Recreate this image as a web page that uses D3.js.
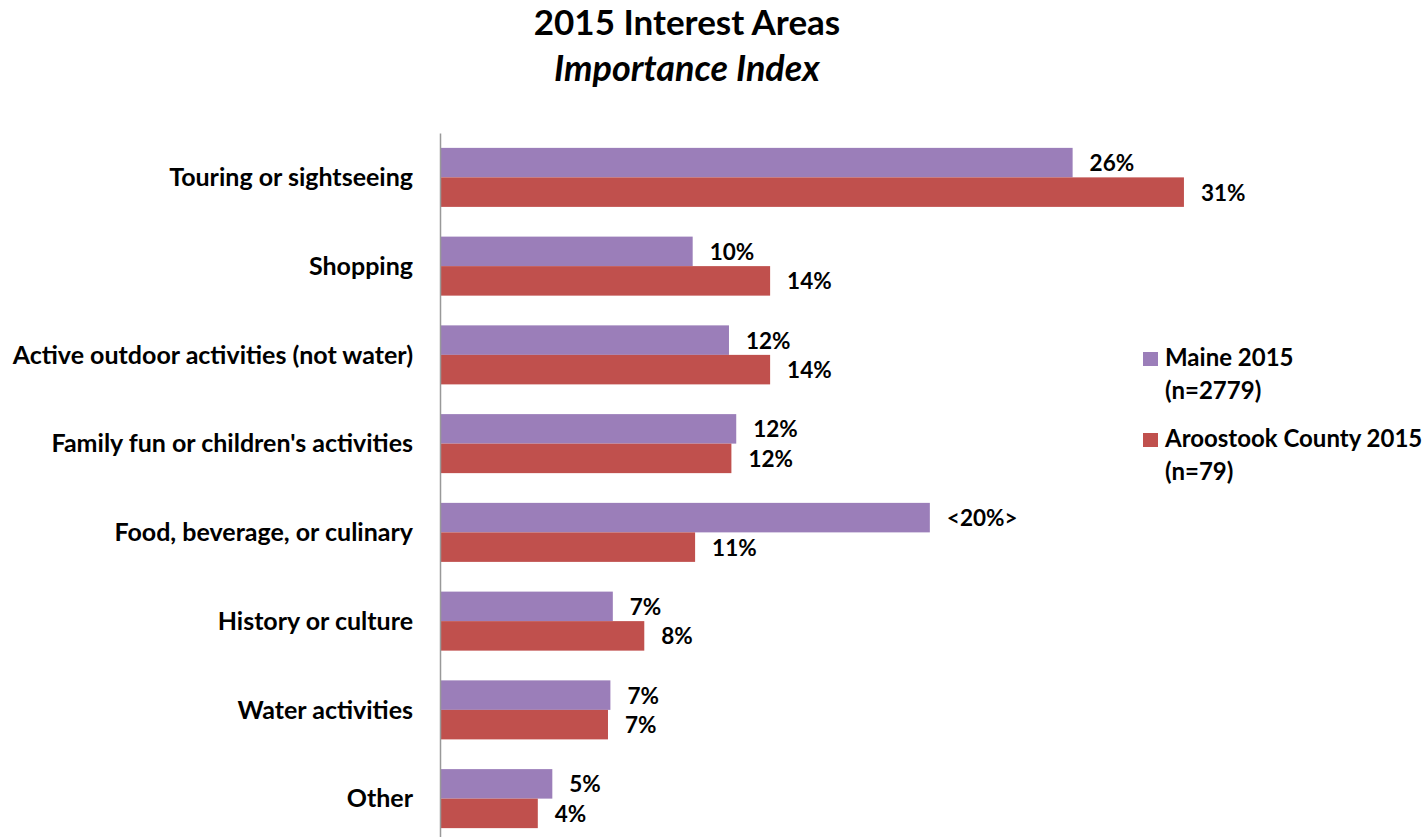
<!DOCTYPE html>
<html>
<head>
<meta charset="utf-8">
<script src="https://cdn.jsdelivr.net/npm/d3@7"></script>
<style>
  html, body { margin: 0; padding: 0; background: #fff; }
  svg text { font-family: Lato, "Open Sans", sans-serif; font-weight: bold; fill: #000; }
</style>
</head>
<body>
<svg id="chart" width="1427" height="837"></svg>
<script>
const categories = [
  "Touring or sightseeing",
  "Shopping",
  "Active outdoor activities (not water)",
  "Family fun or children's activities",
  "Food, beverage, or culinary",
  "History or culture",
  "Water activities",
  "Other"
];
const seriesNames = ["Maine 2015", "Aroostook County 2015"];
const seriesSubtitles = ["(n=2779)", "(n=79)"];
const maineValues = [26.1, 10.4, 11.9, 12.2, 20.2, 7.1, 7.0, 4.6];
const aroostookValues = [30.7, 13.6, 13.6, 12.0, 10.5, 8.4, 6.9, 4.0];
const maineLabels = ["26%", "10%", "12%", "12%", "<20%>", "7%", "7%", "5%"];
const aroostookLabels = ["31%", "14%", "14%", "12%", "11%", "8%", "7%", "4%"];
const colors = ["#9b7eb9", "#c0504d"];
const title = "2015 Interest Areas";
const subtitle = "Importance Index";

const svg = d3.select("#chart");

const x = d3.scaleLinear().domain([0, 40]).range([441, 441 + 40 * 24.2]);
const y = d3.scaleBand().domain(categories).range([133, 843])
  .paddingInner(0.335).paddingOuter(0.1675);
const ySeries = d3.scaleBand().domain(seriesNames).range([0, y.bandwidth()]);

// Title
svg.append("text").attr("x", 687).attr("y", 35).attr("text-anchor", "middle")
  .style("font-size", "35px").text(title);
svg.append("text").attr("x", 687).attr("y", 81).attr("text-anchor", "middle")
  .style("font-size", "36px").style("font-style", "italic").text(subtitle);

const rows = categories.map((c, i) => ({
  cat: c,
  vals: [
    {s: seriesNames[0], v: maineValues[i], label: maineLabels[i], color: colors[0]},
    {s: seriesNames[1], v: aroostookValues[i], label: aroostookLabels[i], color: colors[1]}
  ]
}));

const g = svg.append("g");
const groups = g.selectAll("g.cat").data(rows).join("g")
  .attr("class", "cat")
  .attr("transform", d => `translate(0,${y(d.cat)})`);

groups.selectAll("rect").data(d => d.vals).join("rect")
  .attr("x", x(0))
  .attr("y", d => ySeries(d.s))
  .attr("width", d => x(d.v) - x(0))
  .attr("height", ySeries.bandwidth())
  .attr("fill", d => d.color);

groups.selectAll("text.lbl").data(d => d.vals).join("text")
  .attr("class", "lbl")
  .attr("x", d => x(d.v) + 17)
  .attr("y", d => ySeries(d.s) + ySeries.bandwidth() / 2 + 8.5)
  .style("font-size", "22.5px")
  .text(d => d.label);

// Category axis
const axis = svg.append("g").attr("transform", "translate(440,0)")
  .call(d3.axisLeft(y).tickSize(0).tickSizeOuter(0).tickPadding(27));
axis.select(".domain").attr("stroke", "#999").attr("stroke-width", 1.5);
axis.selectAll(".tick text")
  .style("font-size", "25px")
  .style("font-family", "Lato, 'Open Sans', sans-serif")
  .style("font-weight", "bold")
  .attr("dy", "0.35em")
  .attr("fill", "#000");

// Legend
const legendY = [366, 447];
const legend = svg.append("g");
seriesNames.forEach((s, i) => {
  legend.append("rect").attr("x", 1143).attr("y", legendY[i] - 14)
    .attr("width", 15).attr("height", 14).attr("fill", colors[i]);
  legend.append("text").attr("x", 1165).attr("y", legendY[i])
    .style("font-size", "24px").text(s);
  legend.append("text").attr("x", 1165).attr("y", legendY[i] + 33)
    .style("font-size", "24px").text(seriesSubtitles[i]);
});
</script>
</body>
</html>
